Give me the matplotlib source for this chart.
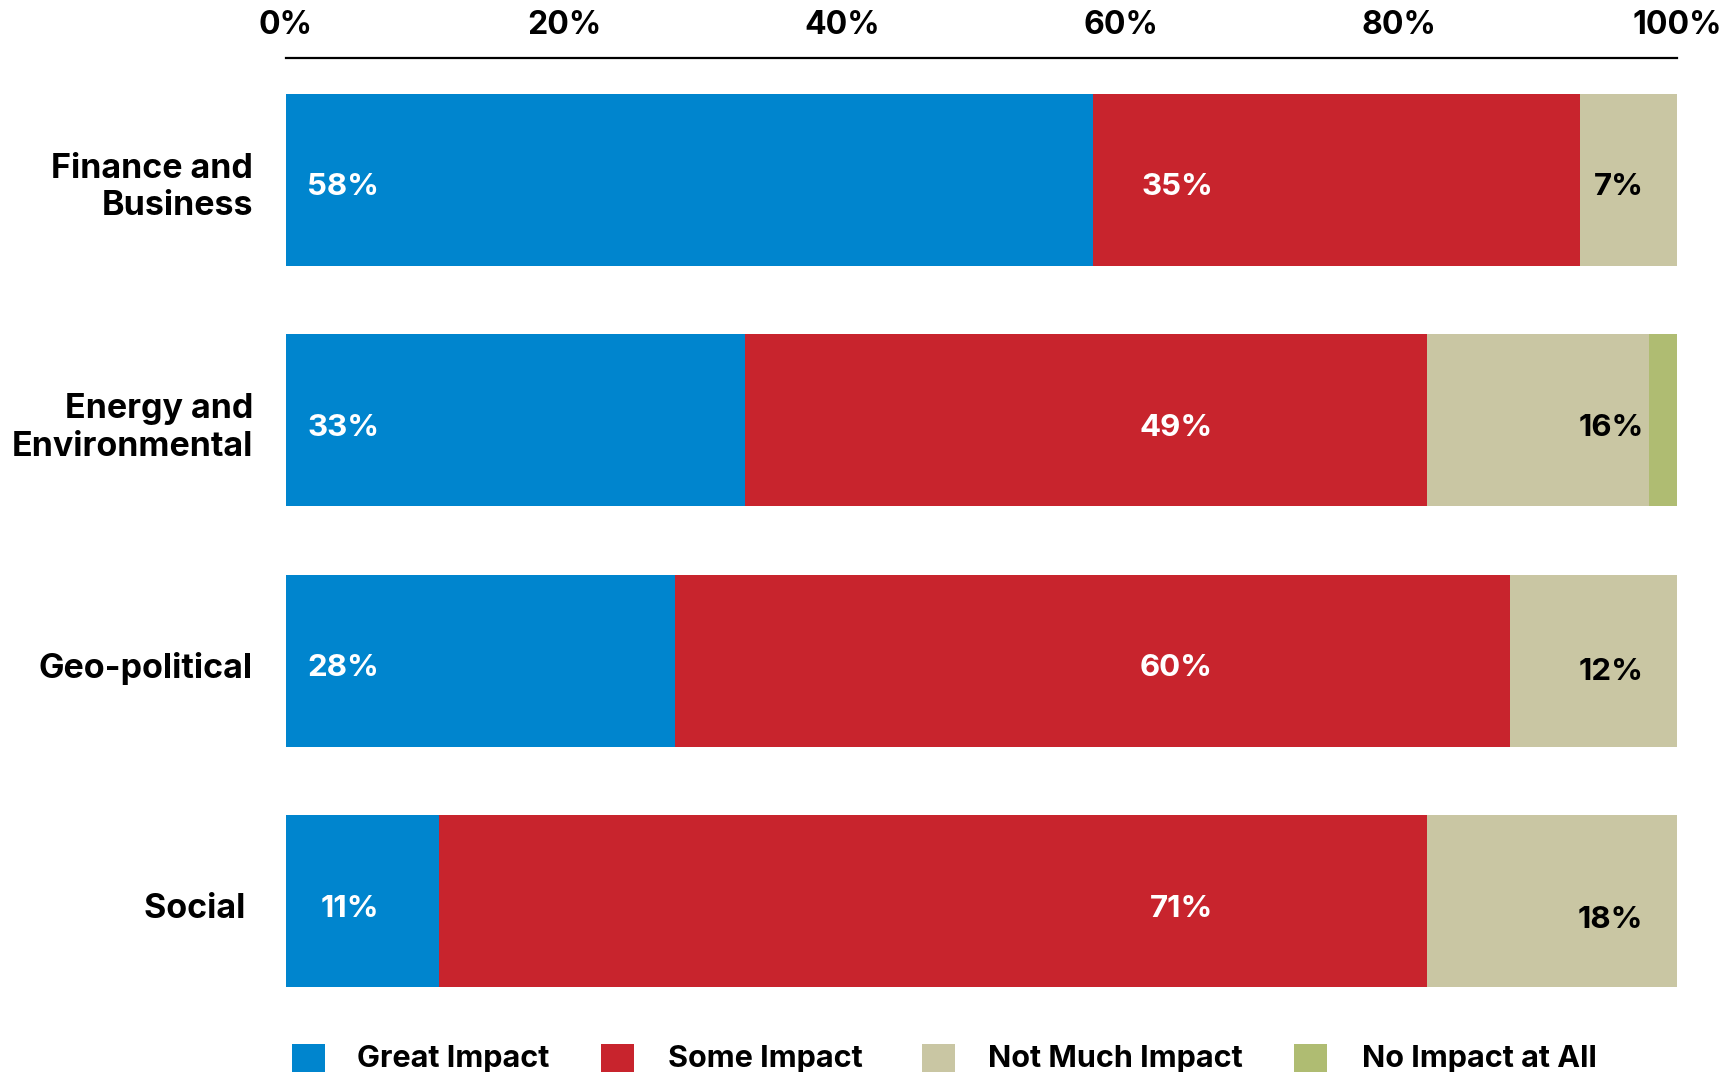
import matplotlib
matplotlib.use("Agg")
import matplotlib.pyplot as plt
from matplotlib.patches import Rectangle
import numpy as np

plt.rcParams['font.family'] = ['Inter', 'DejaVu Sans']

categories = ["Finance and\nBusiness", "Energy and\nEnvironmental", "Geo-political", "Social "]
series_names = ["Great Impact", "Some Impact", "Not Much Impact", "No Impact at All"]
great = [58, 33, 28, 11]
some = [35, 49, 60, 71]
not_much = [7, 16, 12, 18]
no_impact = [0, 2, 0, 0]
great_labels = ["58%", "33%", "28%", "11%"]
some_labels = ["35%", "49%", "60%", "71%"]
not_much_labels = ["7%", "16%", "12%", "18%"]
tick_values = [0, 20, 40, 60, 80, 100]
tick_labels = ["0%", "20%", "40%", "60%", "80%", "100%"]
colors = ["#0085CE", "#C8242D", "#C9C6A3", "#AFBC72"]

W, H = 1725, 1072
fig = plt.figure(figsize=(W / 100, H / 100), dpi=100)
ax = fig.add_axes([286 / W, 1 - 1000 / H, (1677 - 286) / W, (1000 - 58) / H])

y = np.arange(len(categories))
bar_h = 0.715
left = np.zeros(len(categories))
for vals, col in zip([great, some, not_much, no_impact], colors):
    ax.barh(y, vals, left=left, height=bar_h, color=col, edgecolor='none')
    left = left + np.array(vals)

ax.set_xlim(0, 100)
ax.set_ylim(3.41, -0.507)

# in-bar labels
lab_dy = 0.031
tan_dy = [0.031, 0.031, 0.045, 0.078]
for i in range(len(categories)):
    ax.text(6.72, y[i] + lab_dy, great_labels[i], ha='right', va='center',
            color='white', fontsize=22.5, fontweight='bold')
    ax.text(66.64, y[i] + lab_dy, some_labels[i], ha='right', va='center',
            color='white', fontsize=22.5, fontweight='bold')
    ax.text(97.6, y[i] + tan_dy[i], not_much_labels[i], ha='right', va='center',
            color='black', fontsize=22.5, fontweight='bold')

# category labels
for i, c in enumerate(categories):
    ax.text(-2.37, y[i] + lab_dy, c, ha='right', va='center', color='black',
            fontsize=24.5, fontweight='bold', linespacing=1.22,
            transform=ax.transData)

ax.set_yticks([])
ax.xaxis.tick_top()
ax.set_xticks(tick_values)
ax.set_xticklabels(tick_labels, fontsize=23, fontweight='bold')
ax.tick_params(axis='x', length=0, pad=12)
for s in ['right', 'bottom', 'left']:
    ax.spines[s].set_visible(False)
ax.spines['top'].set_linewidth(1.6)
ax.spines['top'].set_color('black')

# legend
sq_x = [292, 601, 922, 1294]
txt_x = [357, 668, 988, 1362]
for name, col, sx, tx in zip(series_names, colors, sq_x, txt_x):
    fig.patches.append(Rectangle((sx / W, 1 - 1072 / H), 33 / W, 28 / H,
                                 transform=fig.transFigure, facecolor=col,
                                 edgecolor='none'))
    fig.text(tx / W, 1 - 1067 / H, name, ha='left', va='baseline',
             fontsize=22, fontweight='bold', color='black')

fig.savefig("out.png", dpi=100)
